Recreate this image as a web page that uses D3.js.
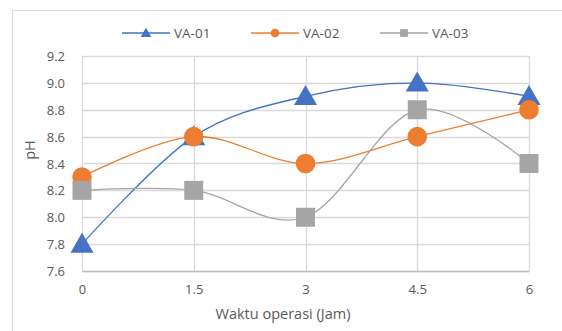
<!DOCTYPE html>
<html>
<head>
<meta charset="utf-8">
<script src="https://cdn.jsdelivr.net/npm/d3@7"></script>
<style>
  body { margin: 0; background: #fff; }
  svg text { font-family: "Open Sans", sans-serif; fill: #595959; }
</style>
</head>
<body>
<div id="chart"></div>
<script>
// data
const hours = [0, 1.5, 3, 4.5, 6];
const va01 = [7.8, 8.6, 8.9, 9.0, 8.9];
const va02 = [8.3, 8.6, 8.4, 8.6, 8.8];
const va03 = [8.2, 8.2, 8.0, 8.8, 8.4];
const seriesNames = ["VA-01", "VA-02", "VA-03"];
const yTicks = [7.6, 7.8, 8.0, 8.2, 8.4, 8.6, 8.8, 9.0, 9.2];

const W = 562, H = 331;
const m = {left: 82, right: 33, top: 56, bottom: 60};

const svg = d3.select("#chart").append("svg")
    .attr("width", W)
    .attr("height", H);

// chart frame
svg.append("rect")
    .attr("x", 12.5).attr("y", 10.5)
    .attr("width", W).attr("height", H)
    .attr("fill", "none")
    .attr("stroke", "#d9d9d9");

var x = d3.scaleLinear().domain([0, 6]).range([m.left, W - m.right]);
var y = d3.scaleLinear().domain([7.6, 9.2]).range([H - m.bottom, m.top]);

// grid
svg.append("g").selectAll("line.h")
    .data(yTicks)
    .enter().append("line")
    .attr("x1", x(0)).attr("x2", x(6))
    .attr("y1", d => Math.round(y(d)) + 0.5)
    .attr("y2", d => Math.round(y(d)) + 0.5)
    .attr("stroke", "#d9d9d9").attr("stroke-width", 1.3);

svg.append("g").selectAll("line.v")
    .data(hours)
    .enter().append("line")
    .attr("y1", y(7.6)).attr("y2", y(9.2))
    .attr("x1", d => Math.round(x(d)) + 0.5)
    .attr("x2", d => Math.round(x(d)) + 0.5)
    .attr("stroke", "#d9d9d9").attr("stroke-width", 1.3);

// axes
var yAxis = svg.append("g")
    .attr("transform", "translate(" + (x(0) - 14) + ",0)")
    .call(d3.axisLeft(y).tickValues(yTicks).tickFormat(d3.format(".1f")).tickSize(0));
yAxis.select(".domain").remove();
yAxis.selectAll("text").attr("font-size", 13).attr("dy", "0.35em");

var xAxis = svg.append("g")
    .attr("transform", "translate(0," + y(7.6) + ")")
    .call(d3.axisBottom(x).tickValues(hours).tickFormat(d => String(d)).tickSize(0));
xAxis.select(".domain").attr("stroke", "#bfbfbf").attr("stroke-width", 1.5);
xAxis.selectAll("text").attr("font-size", 13).attr("dy", "1.55em");

svg.append("text")
    .attr("x", 283).attr("y", 319)
    .attr("text-anchor", "middle")
    .attr("font-size", 14.5)
    .text("Waktu operasi (Jam)");

svg.append("text")
    .attr("transform", "translate(35,150) rotate(-90)")
    .attr("text-anchor", "middle")
    .attr("font-size", 14.5)
    .text("pH");

// series
const colors = ["#4472c4", "#ed7d31", "#a5a5a5"];
const shapes = [d3.symbolTriangle, d3.symbolCircle, d3.symbolSquare];
const sizes = [230, 300, 360];
const allSeries = [va01, va02, va03];

var line = d3.line()
    .x((d, i) => x(hours[i]))
    .y(d => y(d))
    .curve(d3.curveCatmullRom.alpha(0));

allSeries.forEach(function(vals, k) {
    svg.append("path")
        .datum(vals)
        .attr("d", line)
        .attr("fill", "none")
        .attr("stroke", colors[k])
        .attr("stroke-width", 1.3);
});

allSeries.forEach(function(vals, k) {
    svg.append("g").selectAll("path")
        .data(vals)
        .enter().append("path")
        .attr("d", d3.symbol().type(shapes[k]).size(sizes[k]))
        .attr("transform", (d, i) => "translate(" + x(hours[i]) + "," + (y(d) + (k == 0 ? 2 : 0)) + ")")
        .attr("fill", colors[k]);
});

// legend
const legX = [122, 251, 380];
var leg = svg.append("g").selectAll("g")
    .data(seriesNames)
    .enter().append("g")
    .attr("transform", (d, i) => "translate(" + legX[i] + ",33)");
leg.append("line")
    .attr("x1", 0).attr("x2", 48)
    .attr("stroke", (d, i) => colors[i]).attr("stroke-width", 1.3);
leg.append("path")
    .attr("d", (d, i) => d3.symbol().type(shapes[i]).size([50, 60, 60][i])())
    .attr("transform", (d, i) => "translate(24," + (i == 0 ? 1 : 0) + ")")
    .attr("fill", (d, i) => colors[i]);
leg.append("text")
    .attr("x", 52).attr("dy", "0.35em")
    .attr("font-size", 13.5)
    .text(d => d);
</script>
</body>
</html>
